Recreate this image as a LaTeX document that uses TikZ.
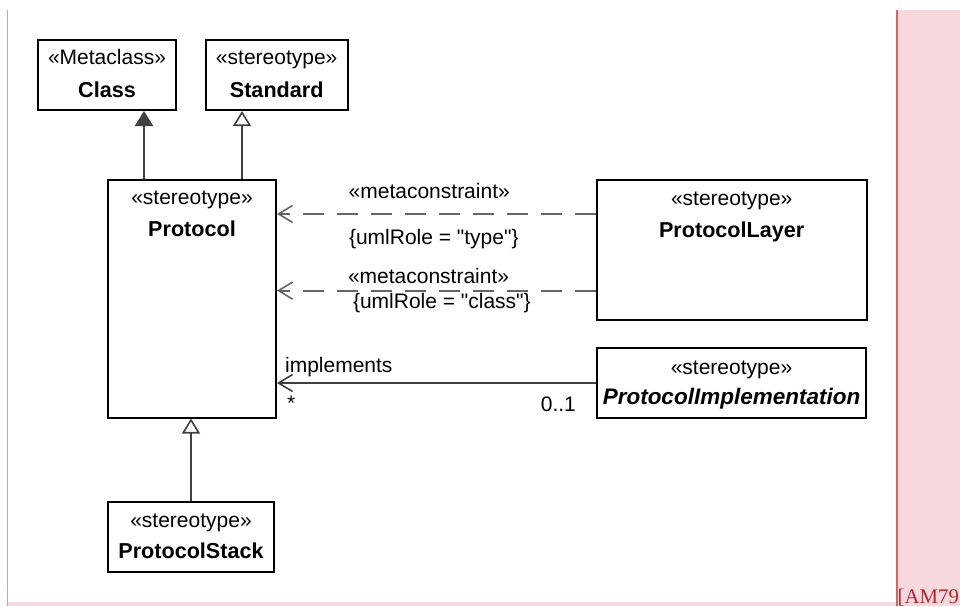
\documentclass[tikz,border=0pt]{standalone}
\usepackage{fontspec}
\setmainfont{Liberation Sans}
\newfontfamily\umlfont{Liberation Sans}
\newfontfamily\refserif{Liberation Serif}
\usepackage{tikz}
\usetikzlibrary{arrows.meta,positioning,calc}
\usepackage{xcolor}
\definecolor{ink}{RGB}{64,64,64}
\definecolor{dashgray}{RGB}{100,100,100}
\definecolor{margpink}{RGB}{247,217,221}
\definecolor{margred}{RGB}{222,96,106}
\definecolor{frameline}{RGB}{222,150,150}
\definecolor{citered}{RGB}{178,40,50}
\tikzset{
  umlbox/.style={draw=black,line width=2pt,fill=white,inner sep=0pt},
  stereo/.style={inner sep=0pt,anchor=base,font=\umlfont\fontsize{21}{25}\selectfont},
  cname/.style={inner sep=0pt,anchor=base,font=\umlfont\fontsize{21.6}{25}\selectfont\bfseries},
  lbl/.style={inner sep=0pt,font=\umlfont\fontsize{21}{25}\selectfont},
  gen/.style={draw=ink,line width=2.2pt,
    -{Triangle[length=15pt,width=18pt,fill=white,line width=1.6pt]}},
  ext/.style={draw=ink,line width=2.2pt,
    -{Triangle[length=15pt,width=18pt,fill=ink]}},
  meta/.style={draw=dashgray,line width=2pt,dash pattern=on 21pt off 13pt,
    -{Straight Barb[length=14pt,width=17pt,line width=1.6pt]}},
  assoc/.style={draw=ink,line width=2.2pt,
    -{Straight Barb[length=14pt,width=17pt,line width=1.6pt]}},
}
\begin{document}
\begin{tikzpicture}[x=1pt,y=-1pt]
  \useasboundingbox (0,0) rectangle (960,606);
  % page margin
  \fill[margpink] (897,10) rectangle (960,606);
  \fill[margpink] (8,602) rectangle (897,606);
  \draw[margred,line width=2.2pt] (897,10) -- (897,606);
  \draw[frameline,line width=1.5pt] (7.5,10) -- (7.5,606);
  \node[anchor=base west,inner sep=0pt,text=citered,
    font=\fontsize{20.8}{25}\refserif] (cite) at (897.5,603) {[AM79};

  % classes
  \node[umlbox,minimum width=138pt,minimum height=70pt] (cls) at (107,75) {};
  \node[umlbox,minimum width=142pt,minimum height=70pt] (std) at (276.7,75) {};
  \node[umlbox,minimum width=168pt,minimum height=238pt] (protocol) at (192,298.5) {};
  \node[umlbox,minimum width=270pt,minimum height=140pt] (layer) at (731.7,250) {};
  \node[umlbox,minimum width=269pt,minimum height=70pt] (impl) at (731.5,383) {};
  \node[umlbox,minimum width=166.5pt,minimum height=70.5pt] (stack) at (191,537) {};

  \node[stereo] (clsS) at ([yshift=-25pt]cls.north) {«Metaclass»};
  \node[cname] (clsN) at ([yshift=-58pt]cls.north) {Class};
  \node[stereo] (stdS) at ([yshift=-25pt]std.north) {«stereotype»};
  \node[cname] (stdN) at ([yshift=-58pt]std.north) {Standard};
  \node[stereo] (protocolS) at ([yshift=-25.5pt]protocol.north) {«stereotype»};
  \node[cname] (protocolN) at ([yshift=-57.5pt]protocol.north) {Protocol};
  \node[stereo] (layerS) at ([yshift=-26.5pt]layer.north) {«stereotype»};
  \node[cname] (layerN) at ([yshift=-58pt]layer.north) {ProtocolLayer};
  \node[stereo] (implS) at ([yshift=-27pt]impl.north) {«stereotype»};
  \node[cname,font=\umlfont\fontsize{22.5}{25}\selectfont\bfseries\itshape] (implN)
    at ([yshift=-57pt]impl.north) {ProtocolImplementation};
  \node[stereo] (stackS) at ([yshift=-26.3pt]stack.north) {«stereotype»};
  \node[cname] (stackN) at ([yshift=-57.3pt]stack.north) {ProtocolStack};

  % generalizations
  \coordinate (g1) at ([xshift=-48pt]protocol.north);
  \coordinate (g2) at ([xshift=50pt]protocol.north);
  \draw[ext] (g1) -- (cls.south -| g1);
  \draw[gen] (g2) -- (std.south -| g2);
  \draw[gen] (stack.north) -- (stack.north |- protocol.south);

  % metaconstraints
  \coordinate (m1) at ($(layer.north west)!0.246!(layer.south west)$);
  \coordinate (m2) at ($(layer.north west)!0.786!(layer.south west)$);
  \draw[meta] (m1) -- (protocol.east |- m1)
    node[lbl,pos=1,anchor=base west,xshift=70.7pt,yshift=15pt] (m1a) {«metaconstraint»}
    node[lbl,pos=1,anchor=base west,xshift=71pt,yshift=-31pt] (m1b) {\{umlRole = "type"\}};
  \draw[meta] (m2) -- (protocol.east |- m2)
    node[lbl,pos=1,anchor=base west,xshift=70pt,yshift=7.5pt] (m2a) {«metaconstraint»}
    node[lbl,pos=1,anchor=base west,xshift=75pt,yshift=-18pt] (m2b) {\{umlRole = "class"\}};

  % association
  \draw[assoc] (impl.west) -- (protocol.east |- impl.west)
    node[lbl,pos=1,anchor=base west,xshift=7pt,yshift=11pt] (implL) {implements}
    node[lbl,pos=1,anchor=base west,xshift=9pt,yshift=-27pt] (implM) {*}
    node[lbl,pos=0,anchor=base east,xshift=-19pt,yshift=-28pt] (implN1) {0..1};
\end{tikzpicture}
\end{document}
